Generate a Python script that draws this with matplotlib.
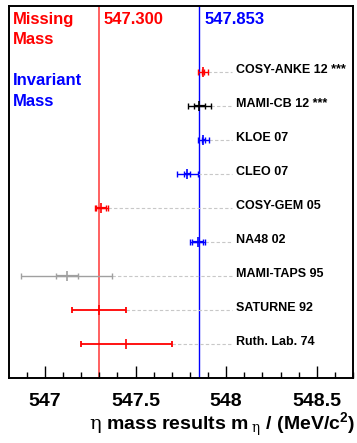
import matplotlib
matplotlib.use("Agg")
import matplotlib.pyplot as plt
import numpy as np

# ---- data ----
names = ["COSY-ANKE 12 ***", "MAMI-CB 12 ***", "KLOE 07", "CLEO 07",
         "COSY-GEM 05", "NA48 02", "MAMI-TAPS 95", "SATURNE 92", "Ruth. Lab. 74"]
values = [547.873, 547.851, 547.874, 547.785, 547.311, 547.843, 547.12, 547.30, 547.45]
stat_err = [0.005, 0.031, 0.007, 0.017, 0.028, 0.030, 0.06, 0.0, 0.0]
tot_err = [0.027, 0.064, 0.030, 0.058, 0.036, 0.043, 0.25, 0.15, 0.25]
colors = ["#ff0000", "#000000", "#0000ff", "#0000ff", "#ff0000", "#0000ff",
          "#a0a0a0", "#ff0000", "#ff0000"]
missing_mass = 547.300
invariant_mass = 547.853
xticks_major = [547.0, 547.5, 548.0, 548.5]
xtick_labels = ["547", "547.5", "548", "548.5"]

plt.rcParams['font.family'] = ['Liberation Sans', 'DejaVu Sans']
plt.rcParams['mathtext.fontset'] = 'custom'
plt.rcParams['mathtext.rm'] = 'DejaVu Serif'
plt.rcParams['mathtext.it'] = 'DejaVu Serif'
plt.rcParams['mathtext.bf'] = 'Liberation Sans:bold'

W, H = 357, 443
fig = plt.figure(figsize=(W / 100, H / 100), dpi=100)
ax = fig.add_axes([9 / W, 1 - 378 / H, (353 - 9) / W, (378 - 6) / H])
ax.set_xlim(546.802, 548.694)
n = len(names)
ax.set_ylim(0, 10.95)

# reference lines
ax.axvline(missing_mass, color="#ff6060", lw=1.4, zorder=1)
ax.axvline(invariant_mass, color="#0000ff", lw=1.0, zorder=1)

label_x = 548.055
dash_end = 548.035
for i, (nm, v, s, t, c) in enumerate(zip(names, values, stat_err, tot_err, colors)):
    y = n - i
    thick = 1.3 if s == 0 else 1.0
    ax.plot([v + t, dash_end], [y, y], color="#c8c8c8", lw=0.8,
            linestyle=(0, (3, 2)), zorder=2)
    ax.errorbar([v], [y], xerr=[t], fmt="none", ecolor=c, elinewidth=thick,
                capsize=2, capthick=thick, zorder=3)
    if s > 0:
        ax.errorbar([v], [y], xerr=[s], fmt="none", ecolor=c, elinewidth=1.6,
                    capsize=2, capthick=1.0, zorder=4)
    ax.plot([v], [y], marker="|", ms=7, mew=1.2, color=c, zorder=5)
    ax.text(label_x, y - 0.03, nm, fontsize=9, fontweight="bold",
            ha="left", va="baseline", color="black")

# axis styling
for sp in ax.spines.values():
    sp.set_linewidth(1.4)
ax.set_yticks([])
ax.set_xticks(xticks_major)
ax.set_xticks(np.arange(546.9, 548.7, 0.1), minor=True)
ax.set_xticklabels(xtick_labels, fontsize=14, fontweight="bold")
ax.tick_params(axis="x", which="major", direction="in", length=9, width=1.0, pad=11)
ax.tick_params(axis="x", which="minor", direction="in", length=4.5, width=1.0)

# annotations
fig.text(13 / W, 1 - 24 / H, "Missing", color="#ff0000", fontsize=12,
         fontweight="bold", ha="left", va="baseline")
fig.text(13 / W, 1 - 44 / H, "Mass", color="#ff0000", fontsize=12,
         fontweight="bold", ha="left", va="baseline")
fig.text(13 / W, 1 - 85 / H, "Invariant", color="#0000ff", fontsize=12,
         fontweight="bold", ha="left", va="baseline")
fig.text(13 / W, 1 - 106 / H, "Mass", color="#0000ff", fontsize=12,
         fontweight="bold", ha="left", va="baseline")
fig.text(104 / W, 1 - 24 / H, f"{missing_mass:.3f}", color="#ff0000", fontsize=12,
         fontweight="bold", ha="left", va="baseline")
fig.text(205 / W, 1 - 24 / H, f"{invariant_mass:.3f}", color="#0000ff", fontsize=12,
         fontweight="bold", ha="left", va="baseline")

fig.text(355 / W, 1 - 430 / H,
         r"$\mathrm{\eta}$ mass results m$_{\;\mathrm{\eta}}$ / (MeV/c$^{\mathbf{2}}$)",
         fontsize=14, fontweight="bold", ha="right", va="baseline")

fig.savefig("out.png", dpi=100)
